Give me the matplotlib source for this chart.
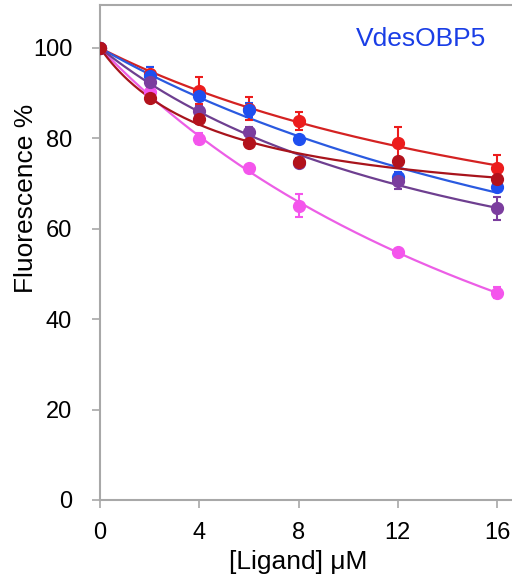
import numpy as np
import matplotlib
matplotlib.use("Agg")
import matplotlib.pyplot as plt

plt.rcParams['font.family'] = ['Liberation Sans', 'DejaVu Sans']

# ligand concentrations (uM)
conc = [0, 2, 4, 6, 8, 12, 16]

# fluorescence % per ligand, with error bars
red = [100, 94.2, 90.5, 86.6, 83.8, 78.9, 73.5]
red_err = [0, 1.5, 3.0, 2.5, 2.0, 3.7, 2.8]
blue = [100, 93.7, 89.4, 86.3, 79.8, 71.5, 69.2]
blue_err = [0, 2.0, 1.0, 1.5, 0.8, 1.0, 0.8]
magenta = [100, 90.3, 79.9, 73.4, 65.1, 54.9, 45.9]
magenta_err = [0, 0.8, 1.2, 0.8, 2.6, 0.6, 1.3]
purple = [100, 92.5, 86.1, 81.5, 74.5, 70.6, 64.5]
purple_err = [0, 1.2, 1.0, 1.0, 0.8, 1.8, 2.6]
darkred = [100, 88.9, 84.2, 78.9, 74.8, 74.9, 71.0]
darkred_err = [0, 0.8, 0.8, 0.8, 0.8, 0.6, 0.6]

series = [
    (red, red_err, '#ec1c1c', '#d42222'),
    (blue, blue_err, '#1f4ff0', '#2a5ae0'),
    (magenta, magenta_err, '#f455ec', '#ec5ee6'),
    (purple, purple_err, '#7b3d9e', '#6e3f90'),
    (darkred, darkred_err, '#b3121c', '#a8141c'),
]


def fit_binding(x, y):
    # y = 100 - Bmax * x / (Kd + x), grid search on Kd
    x = np.array(x, float)
    d = 100 - np.array(y, float)
    best = None
    for kd in np.linspace(0.5, 200, 4000):
        f = x / (kd + x)
        bmax = np.sum(f * d) / np.sum(f * f)
        err = np.sum((d - bmax * f) ** 2)
        if best is None or err < best[0]:
            best = (err, kd, bmax)
    return best[1], best[2]


fig = plt.figure(figsize=(5.12, 5.79), dpi=100)
ax = fig.add_axes([100 / 512, 79 / 579, 412 / 512, 495 / 579])

xs = np.linspace(0, 16, 200)
for vals, errs, col, lcol in series:
    kd, bmax = fit_binding(conc, vals)
    ax.plot(xs, 100 - bmax * xs / (kd + xs), color=lcol, lw=1.6, zorder=2)
    ax.errorbar(conc, vals, yerr=errs, fmt='o', color=col, ms=8.5,
                elinewidth=1.5, capsize=3, capthick=1.5, zorder=3)

ax.set_xlim(0, 16.6)
ax.set_ylim(0, 109.5)
ax.set_xticks([0, 4, 8, 12, 16])
ax.set_yticks([0, 20, 40, 60, 80, 100])

for s in ['left', 'bottom', 'top']:
    ax.spines[s].set_color('#a8a8a8')
    ax.spines[s].set_linewidth(1.5)
ax.spines['right'].set_visible(False)
ax.tick_params(direction='out', length=6, width=1.2, color='#a8a8a8',
               labelsize=17)
ax.tick_params(axis='y', pad=14)
ax.tick_params(axis='x', pad=10)

# axis titles placed like the original figure
fig.text(298 / 512, 1 - 562 / 579, '[Ligand] μM', fontsize=19,
         ha='center', va='center')
fig.text(26 / 512, 1 - 198 / 579, 'Fluorescence %', fontsize=19,
         rotation=90, ha='center', va='center')

ax.text(0.62, 0.955, 'VdesOBP5', transform=ax.transAxes, fontsize=19,
        color='#1a3ee6', ha='left', va='top')

fig.savefig('out.png', dpi=100)
